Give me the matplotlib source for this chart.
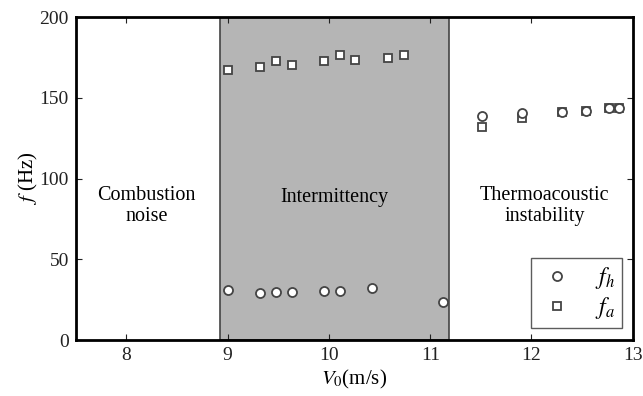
import matplotlib
matplotlib.use("Agg")
import matplotlib.pyplot as plt

plt.rcParams['font.family'] = ['Liberation Serif', 'DejaVu Serif']
plt.rcParams['mathtext.fontset'] = 'stix'

# Data
v_fh = [9.0, 9.32, 9.48, 9.63, 9.95, 10.11, 10.42, 11.13, 11.51, 11.91, 12.30, 12.54, 12.77, 12.86]
fh = [31.1, 29.1, 29.7, 29.7, 30.5, 30.5, 32.4, 23.7, 138.9, 140.7, 141.3, 141.8, 143.4, 143.4]
v_fa = [9.0, 9.32, 9.48, 9.63, 9.95, 10.11, 10.26, 10.58, 10.74, 11.51, 11.91, 12.30, 12.54, 12.77, 12.86]
fa = [167.2, 169.2, 172.5, 170.0, 172.5, 176.7, 173.4, 174.4, 176.7, 131.6, 137.6, 141.3, 141.8, 143.4, 143.4]
region = (8.92, 11.19)
xticks = [8, 9, 10, 11, 12, 13]
yticks = [0, 50, 100, 150, 200]

fig = plt.figure(figsize=(6.43, 3.96), dpi=100)
ax = fig.add_axes([0.118, 0.1414, 0.866, 0.8156])

ax.axvspan(region[0], region[1], facecolor='#b5b5b5', edgecolor='#444444', lw=1.2, zorder=0)

ax.plot(v_fh, fh, linestyle='none', marker='o', ms=6.5, mfc='white', mec='#444444', mew=1.3,
        label=r'$f_h$', zorder=3)
ax.plot(v_fa, fa, linestyle='none', marker='s', ms=5.5, mfc='white', mec='#444444', mew=1.3,
        label=r'$f_a$', zorder=2)

ax.set_xlim(7.5, 13.0)
ax.set_ylim(0, 200)
ax.set_xticks(xticks)
ax.set_yticks(yticks)
ax.tick_params(direction='in', top=True, right=True, length=4, width=0.8, labelsize=14, colors='#222222', pad=5)
for s in ax.spines.values():
    s.set_linewidth(2)
    s.set_color('black')

ax.set_xlabel(r'$V_0$(m/s)', fontsize=15, labelpad=3)
ax.set_ylabel(r'$f$ (Hz)', fontsize=15, labelpad=0)

ax.text(8.2, 83, 'Combustion\nnoise', ha='center', va='center', fontsize=14.5, linespacing=1.15)
ax.text(10.05, 88.5, 'Intermittency', ha='center', va='center', fontsize=14.5)
ax.text(12.13, 83, 'Thermoacoustic\ninstability', ha='center', va='center', fontsize=14.5, linespacing=1.15)

leg = ax.legend(loc='lower right', fontsize=17, frameon=True, fancybox=False, edgecolor='#333333',
                borderpad=0.3, handletextpad=0.8, labelspacing=0.15, handlelength=1.6, markerscale=1.0,
                borderaxespad=0, bbox_to_anchor=(0.98, 0.037))
leg.get_frame().set_linewidth(1.0)

fig.savefig('out.png', dpi=100)
